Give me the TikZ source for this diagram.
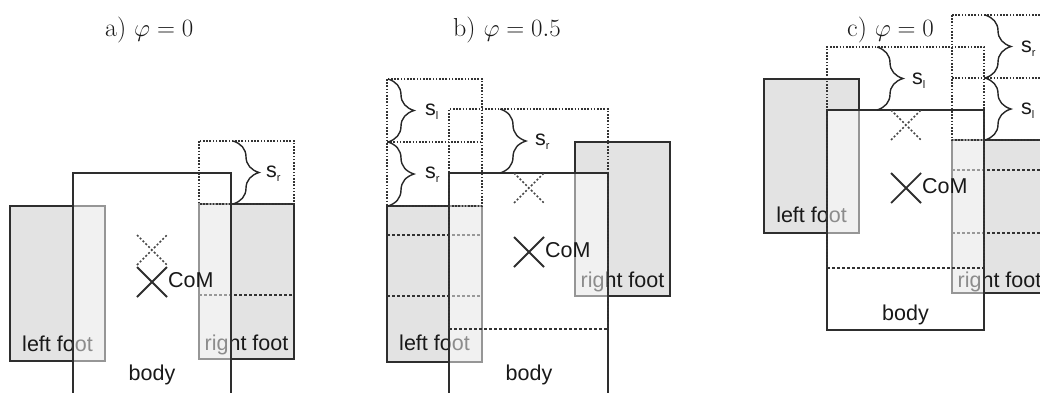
\documentclass[tikz,border=0pt]{standalone}
\usepackage{fontspec}
\setsansfont{Liberation Sans}
\usetikzlibrary{decorations.pathreplacing}
\newcommand\mysub[1]{s\raisebox{-4.5pt}{\fontsize{11}{11}\selectfont #1}}
\tikzset{
  foot/.style={draw=black!82, fill=black!11, line width=1.5pt},
  bodybox/.style={draw=black!82, fill=white, fill opacity=0.5, line width=1.5pt},
  ghost/.style={draw=black!80, line width=1.3pt, dash pattern=on 1.6pt off 1.6pt},
  sep/.style={draw=black!80, line width=1.3pt, dash pattern=on 3pt off 2pt},
  br/.style={decorate, decoration={brace, amplitude=26pt}, draw=black!85, line width=1.4pt},
  lab/.style={font=\sffamily\fontsize{21.5}{24}\selectfont, inner sep=0pt, text=black!90},
  ttl/.style={font=\fontsize{26}{30}\selectfont, inner sep=0pt, text=black!90},
  crs/.style={draw=black!82, line width=1.8pt},
  gcrs/.style={draw=black!72, line width=1.5pt, dash pattern=on 2pt off 2pt},
}
\begin{document}
\begin{tikzpicture}[x=1pt,y=-1pt]
\useasboundingbox (0,0) rectangle (1040,392);
\clip (0,0) rectangle (1040,392);

% ---------------- panel a ----------------
\node[ttl, anchor=base west] (ta) at (105,36) {a) $\varphi=0$};
\path[foot] (10,206) rectangle (105,361);
\node[lab, anchor=base] (lfa) at (57.5,351) {left foot};
\path[foot] (199,204) rectangle (294,359);
\draw[sep] (199,295) -- (294,295);
\node[lab, anchor=base] (rfa) at (246.5,350) {right foot};
\path[bodybox] (73,173) rectangle (231,394);
\draw[ghost] (199,141) rectangle (294,204);
\draw[br] (233,141) -- (233,204);
\node[lab, anchor=base west] (sra) at (266,177) {\mysub{r}};
\draw[gcrs] (137,235) -- (167,265) (137,265) -- (167,235);
\draw[crs] (137,267) -- (167,297) (137,297) -- (167,267);
\node[lab, anchor=base west] (coma) at (168,287) {CoM};
\node[lab, anchor=base] (bodya) at (152,380) {body};

% ---------------- panel b ----------------
\node[ttl, anchor=base west] (tb) at (453,36) {b) $\varphi=0.5$};
\path[foot] (387,206) rectangle (482,362);
\draw[sep] (387,235) -- (482,235) (387,296) -- (482,296);
\node[lab, anchor=base] (lfb) at (434.5,350) {left foot};
\path[foot] (575,142) rectangle (670,296);
\node[lab, anchor=base] (rfb) at (622.5,287) {right foot};
\path[bodybox] (449,173) rectangle (608,394);
\draw[ghost] (387,79) rectangle (482,206);
\draw[ghost] (387,142) -- (482,142);
\draw[ghost] (449,329) -- (449,109) -- (608,109) -- (608,329);
\draw[sep] (449,329) -- (608,329);
\draw[br] (388,79) -- (388,142);
\draw[br] (388,142) -- (388,206);
\draw[br] (500,109) -- (500,173);
\node[lab, anchor=base west] (slb) at (425,115) {\mysub{l}};
\node[lab, anchor=base west] (srb1) at (425,178) {\mysub{r}};
\node[lab, anchor=base west] (srb2) at (535,145) {\mysub{r}};
\draw[gcrs] (514,173) -- (544,203) (514,203) -- (544,173);
\draw[crs] (514,237) -- (544,267) (514,267) -- (544,237);
\node[lab, anchor=base west] (comb) at (545,257) {CoM};
\node[lab, anchor=base] (bodyb) at (529,380) {body};

% ---------------- panel c ----------------
\node[ttl, anchor=base west] (tc) at (847,36) {c) $\varphi=0$};
\path[foot] (764,79) rectangle (859,233);
\node[lab, anchor=base] (lfc) at (811.5,222) {left foot};
\path[foot] (952,140) rectangle (1047,293);
\draw[sep] (952,170) -- (1047,170) (952,233) -- (1047,233);
\node[lab, anchor=base] (rfc) at (999.5,287) {right foot};
\path[bodybox] (827,110) rectangle (984,330);
\draw[ghost] (952,15) rectangle (1047,140);
\draw[ghost] (952,78) -- (1047,78);
\draw[ghost] (827,268) -- (827,47) -- (984,47) -- (984,268);
\draw[sep] (827,268) -- (984,268);
\draw[br] (877,47) -- (877,110);
\draw[br] (985,15) -- (985,78);
\draw[br] (985,78) -- (985,140);
\node[lab, anchor=base west] (slc) at (912,84) {\mysub{l}};
\node[lab, anchor=base west] (src) at (1021,52) {\mysub{r}};
\node[lab, anchor=base west] (slc2) at (1021,114) {\mysub{l}};
\draw[gcrs] (891,110) -- (921,140) (891,140) -- (921,110);
\draw[crs] (891,173) -- (921,203) (891,203) -- (921,173);
\node[lab, anchor=base west] (comc) at (922,193) {CoM};
\node[lab, anchor=base] (bodyc) at (905.5,320) {body};
\end{tikzpicture}
\end{document}
